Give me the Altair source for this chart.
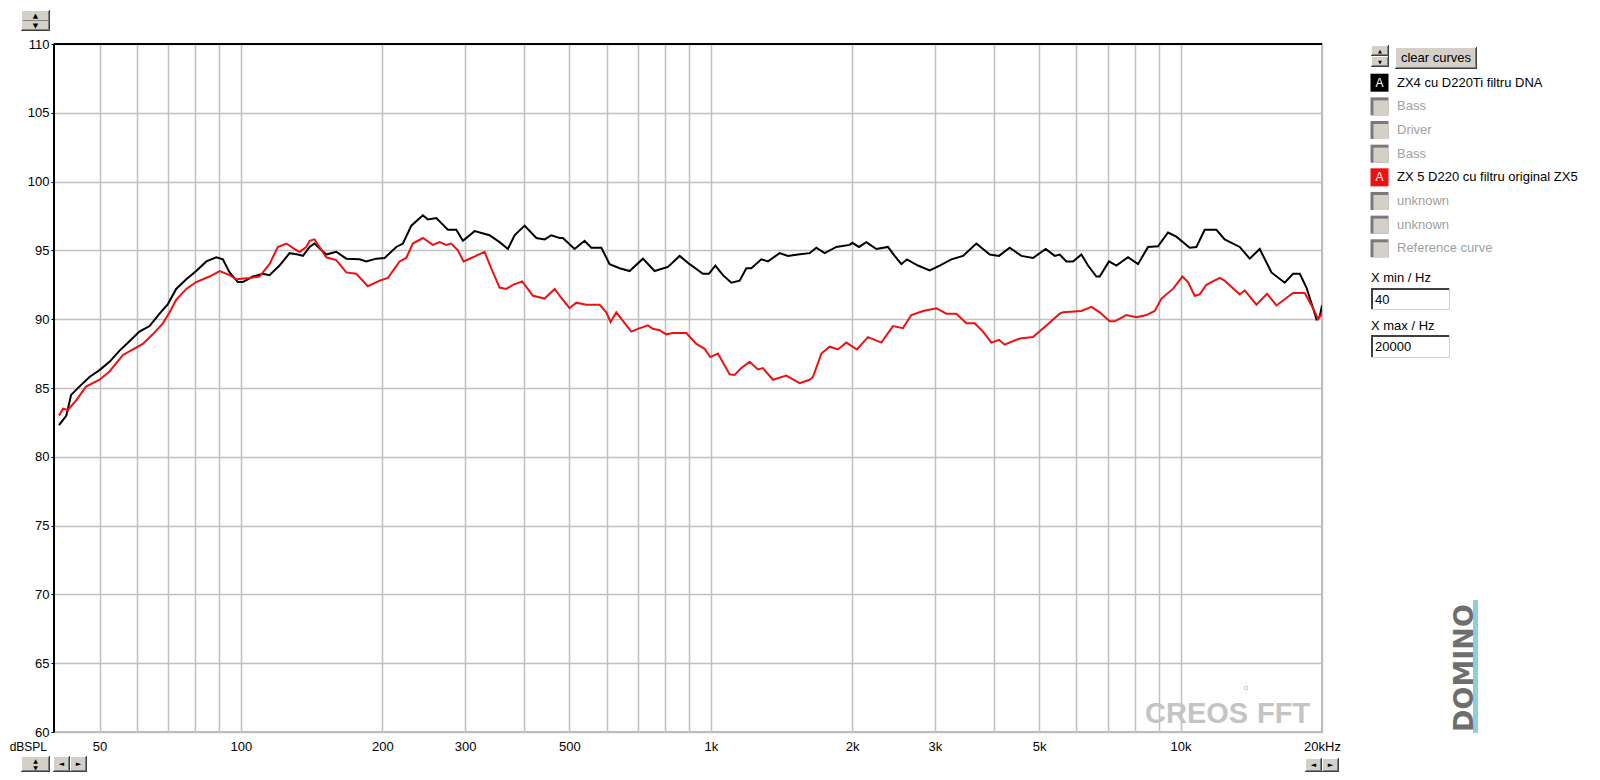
import altair as alt
import pandas as pd

# ---------------- data ----------------
BLACK_FREQ = [41.0, 42.5, 43.5, 45.3, 47.6, 50.0, 52.5, 55.1, 57.9, 60.8, 63.9, 67.1, 69.9, 72.8,
              76.5, 80.3, 84.4, 88.6, 91.5, 94.6, 98.5, 100.9, 106.0, 111.3, 115.0, 120.8, 126.9,
              132.2, 135.5, 140.0, 143.4, 151.9, 159.5, 167.6, 178.8, 184.8, 194.1, 202.2, 214.1,
              221.2, 230.5, 243.9, 250.0, 260.5, 275.7, 287.3, 296.8, 314.3, 338.1, 355.2, 370.0,
              382.3, 401.5, 425.3, 443.0, 457.7, 476.7, 484.4, 513.0, 538.8, 556.8, 584.8, 609.1,
              639.7, 671.9, 717.1, 759.4, 810.6, 858.5, 901.6, 962.3, 991.0, 1022.6, 1061.4,
              1106.0, 1152.0, 1190.5, 1220.0, 1281.3, 1323.4, 1401.5, 1459.7, 1532.9, 1623.4,
              1677.6, 1747.3, 1850.5, 1975.2, 2001.5, 2067.3, 2143.7, 2251.4, 2383.2, 2462.8,
              2545.0, 2615.8, 2760.7, 2923.6, 3070.6, 3251.8, 3442.1, 3675.9, 3924.7, 4107.8,
              4327.1, 4583.5, 4851.8, 5163.7, 5396.5, 5530.4, 5715, 5903, 6151, 6353, 6620, 6728,
              7041, 7301, 7729, 8117, 8525, 8953, 9403, 9797, 10457, 10806, 11255, 11918, 12413,
              13364, 14035, 14740, 15610, 16662, 17354, 17934, 18533, 19143, 19465, 19783, 20000]
BLACK_SPL = [82.3, 83.0, 84.5, 85.1, 85.8, 86.3, 86.9, 87.7, 88.4, 89.1, 89.5, 90.4, 91.1, 92.2,
             92.9, 93.5, 94.2, 94.5, 94.35, 93.4, 92.7, 92.7, 93.1, 93.3, 93.2, 93.9, 94.8,
             94.7, 94.6, 95.25, 95.5, 94.7, 94.9, 94.4, 94.35, 94.2, 94.4, 94.45, 95.25,
             95.5, 96.8, 97.55, 97.25, 97.35, 96.5, 96.5, 95.7, 96.4, 96.1, 95.6, 95.1,
             96.1, 96.8, 95.9, 95.8, 96.1, 95.9, 95.9, 95.1, 95.7, 95.2, 95.2, 94.0,
             93.7, 93.5, 94.4, 93.5, 93.8, 94.6, 94.0, 93.3, 93.3, 93.9, 93.2,
             92.65, 92.8, 93.7, 93.7, 94.35, 94.2, 94.8, 94.6, 94.7, 94.8,
             95.2, 94.8, 95.25, 95.4, 95.55, 95.25, 95.6, 95.1, 95.25, 94.6,
             94.0, 94.35, 93.9, 93.55, 93.9, 94.35, 94.6, 95.5, 94.7, 94.6,
             95.2, 94.6, 94.45, 95.1, 94.6, 94.7, 94.2, 94.2, 94.7, 93.9, 93.1, 93.1,
             94.2, 93.9, 94.5, 94.0, 95.25, 95.3, 96.3, 96.0, 95.2, 95.25, 96.5, 96.5, 95.8,
             95.25, 94.4, 95.1, 93.4, 92.65, 93.3, 93.3, 92.3, 90.8, 90.0, 90.2, 91.0]

RED_FREQ = [41.0, 41.8, 42.8, 44.6, 46.8, 50.0, 52.5, 56.1, 58.9, 61.8, 64.9, 68.2, 70.5, 72.8,
            76.5, 80.3, 85.7, 90.1, 94.6, 97.7, 104.3, 109.5, 115.0, 119.8, 124.9, 130.1, 133.3,
            137.7, 140.0, 143.4, 151.9, 159.5, 167.6, 176.0, 186.2, 197.3, 205.5, 217.6, 224.8,
            232.2, 243.9, 256.2, 264.7, 273.5, 280.3, 289.6, 297.8, 311.7, 330.0, 341.0, 355.2,
            367.1, 379.1, 397.0, 418.3, 443.0, 465.2, 484.4, 500.6, 517.3, 543.3, 580.0, 599.4,
            612.1, 629.4, 677.3, 699.6, 734.7, 752.9, 778.0, 804.0, 830.4, 887.1, 931.7, 970.4,
            997.8, 1035.7, 1096.8, 1124.0, 1161.6, 1209.8, 1260.0, 1291.3, 1356.2, 1448.3,
            1545.7, 1623.4, 1650.0, 1719.3, 1790.7, 1865.1, 1943.5, 2047.2, 2160.6, 2307.3,
            2442.2, 2565.0, 2673.0, 2829.5, 3021.4, 3173.3, 3332.8, 3500.3, 3645.5, 3797.0,
            3956.7, 4107.8, 4222.0, 4545.4, 4851.8, 5181.4, 5530.4, 5620.8, 6151.0, 6460.2,
            6728.4, 7065.5, 7240.8, 7668.3, 8053.6, 8458.3, 8809.6, 9103.7, 9634.8, 10090,
            10371, 10716, 10982, 11349, 12114, 12413, 13364, 13695, 14504, 15277, 15996, 17354,
            18379, 19143, 19619, 20000]
RED_SPL = [83.0, 83.5, 83.4, 84.1, 85.1, 85.6, 86.2, 87.4, 87.8, 88.2, 88.9, 89.7, 90.5, 91.4,
           92.2, 92.7, 93.1, 93.5, 93.2, 92.9, 93.0, 93.1, 94.0, 95.25, 95.5, 95.1, 94.9,
           95.25, 95.7, 95.8, 94.5, 94.3, 93.4, 93.3, 92.4, 92.8, 93.0, 94.2, 94.45,
           95.5, 95.9, 95.4, 95.6, 95.4, 95.5, 95.0, 94.2, 94.5, 94.9, 93.7, 92.3,
           92.2, 92.5, 92.75, 91.7, 91.5, 92.2, 91.4, 90.8, 91.2, 91.05, 91.05, 90.5,
           89.8, 90.5, 89.1, 89.3, 89.55, 89.3, 89.2, 88.9, 89.0, 89.0, 88.2, 87.85,
           87.25, 87.5, 86.0, 85.95, 86.45, 86.9, 86.35, 86.45, 85.6, 85.9,
           85.35, 85.6, 85.8, 87.5, 88.0, 87.8, 88.3, 87.8, 88.7, 88.3,
           89.5, 89.35, 90.3, 90.6, 90.8, 90.4, 90.4, 89.7, 89.7, 89.1,
           88.3, 88.5, 88.15, 88.6, 88.7, 89.55, 90.4, 90.5, 90.6, 90.9,
           90.5, 89.85, 89.85, 90.3, 90.15, 90.3, 90.6, 91.5, 92.2, 93.1,
           92.7, 91.7, 91.8, 92.5, 93.0, 92.8, 91.8, 92.1, 91.05, 91.85, 91.0, 91.9,
           91.9, 90.8, 90.0, 90.4]

GRID_FREQS = [50, 60, 70, 80, 90, 100, 200, 300, 400, 500, 600, 700, 800, 900,
              1000, 2000, 3000, 4000, 5000, 6000, 7000, 8000, 9000, 10000, 20000]
LABEL_FREQS = [50, 100, 200, 300, 500, 1000, 2000, 3000, 5000, 10000, 20000]
SPL_TICKS = [60, 65, 70, 75, 80, 85, 90, 95, 100, 105, 110]
X_DOMAIN = [40, 20000]
Y_DOMAIN = [60, 110]

LEGEND_LABELS = ["ZX4 cu D220Ti  filtru DNA", "Bass", "Driver", "Bass",
                 "ZX 5  D220 cu filtru original ZX5", "unknown", "unknown", "Reference curve"]
LEGEND_STATE = ["black", "off", "off", "off", "red", "off", "off", "off"]
XMIN_TEXT = "40"
XMAX_TEXT = "20000"

# ---------------- layout / style ----------------
W, H = 1268, 688
FONT = "Liberation Sans"
GRID = "#c0c0c0"
ONE = alt.Data(values=[{"k": 0}])

xs = alt.Scale(type="log", domain=X_DOMAIN, nice=False)
ys = alt.Scale(domain=Y_DOMAIN, nice=False, zero=False)

lab_list = ",".join(str(v) for v in LABEL_FREQS)
label_expr = (f"indexof([{lab_list}], datum.value) < 0 ? '' : "
              f"(datum.value == {LABEL_FREQS[-1]} ? '20kHz' : "
              f"(datum.value >= 1000 ? (datum.value / 1000) + 'k' : '' + datum.value))")

x_axis = alt.Axis(values=GRID_FREQS, labelExpr=label_expr, grid=True, gridColor=GRID,
                  gridWidth=1.5, domain=False, ticks=False, labelPadding=14,
                  labelBaseline="middle", labelFontSize=13, labelFont=FONT,
                  labelColor="#000", labelFlush=False, labelOverlap=False,
                  labelBound=False, title=None)
y_axis = alt.Axis(values=SPL_TICKS, grid=True, gridColor=GRID, gridWidth=1.5,
                  domain=False, tickSize=3, tickColor="#000", labelPadding=2,
                  labelFontSize=13, labelFont=FONT, labelColor="#000", title=None)

df_black = pd.DataFrame({"freq": BLACK_FREQ, "spl": BLACK_SPL})
df_red = pd.DataFrame({"freq": RED_FREQ, "spl": RED_SPL})

black = alt.Chart(df_black).mark_line(color="#000000", strokeWidth=2, clip=True).encode(
    x=alt.X("freq:Q", scale=xs, axis=x_axis),
    y=alt.Y("spl:Q", scale=ys, axis=y_axis))
red = alt.Chart(df_red).mark_line(color="#ee1111", strokeWidth=2, clip=True).encode(
    x=alt.X("freq:Q", scale=xs, axis=x_axis),
    y=alt.Y("spl:Q", scale=ys, axis=None))


def rect(x1, y1, x2, y2, fill):
    return alt.Chart(ONE).mark_rect(fill=fill, strokeWidth=0).encode(
        x=alt.value(x1), x2=alt.value(x2), y=alt.value(y1), y2=alt.value(y2))


def txt(text, x, y, size=13, color="#000", align="left", weight="normal",
        angle=0, baseline="middle", font=FONT):
    return alt.Chart(ONE).mark_text(text=text, align=align, baseline=baseline,
                                    fontSize=size, color=color, font=font,
                                    fontWeight=weight, angle=angle).encode(
        x=alt.value(x), y=alt.value(y))


def button(x1, y1, x2, y2):
    return [rect(x1, y1, x2, y2, "#404040"), rect(x1, y1, x2 - 1, y2 - 1, "#ffffff"),
            rect(x1 + 1, y1 + 1, x2 - 1, y2 - 1, "#808080"),
            rect(x1 + 1, y1 + 1, x2 - 2, y2 - 2, "#d4d0c8")]


def sunken(x1, y1, x2, y2):
    return [rect(x1, y1, x2, y2, "#d4d0c8"), rect(x1, y1, x2 - 1, y2 - 1, "#404040"),
            rect(x1 + 2, y1 + 2, x2 - 1, y2 - 1, "#ffffff")]


# frame
frame = [
    alt.Chart(ONE).mark_rule(color="#000", strokeWidth=2).encode(
        x=alt.value(0), x2=alt.value(W), y=alt.value(0)),
    alt.Chart(ONE).mark_rule(color="#000", strokeWidth=2).encode(
        x=alt.value(0), y=alt.value(0), y2=alt.value(H)),
]

# watermarks
marks = [
    txt("CREOS", 1091, 679, size=29, color="#c4c4c4", weight="bold", baseline="alphabetic"),
    txt("FFT", 1203, 679, size=29, color="#c4c4c4", weight="bold", baseline="alphabetic"),
    alt.Chart(ONE).mark_point(shape="circle", size=14, color="#b0b0b0", strokeWidth=1).encode(
        x=alt.value(1192), y=alt.value(644)),
    rect(1419, 556, 1424, 689, "#8fcfd8"),
    txt("DOMINO", 1419, 624, size=27, color="#6e6e6e", weight="bold", angle=270,
        align="center", baseline="alphabetic", font="DejaVu Sans"),
]

# bottom / top controls
ui = []
ui += button(-33, -34, -4, -13)
ui += [rect(-31, -24, -6, -23, "#808080"),
       txt("▲", -18.5, -28.5, size=7, align="center", font="DejaVu Sans"),
       txt("▼", -18.5, -18.5, size=7, align="center", font="DejaVu Sans")]
ui += [txt("dBSPL", -7, 703, size=12, align="right")]
ui += button(-33, 712, -4, 728)
ui += [txt("▲", -18.5, 716.5, size=6, align="center", font="DejaVu Sans"),
       txt("▼", -18.5, 723.5, size=6, align="center", font="DejaVu Sans")]
ui += button(-1, 712, 16, 728) + button(16, 712, 33, 728)
ui += [txt("◄", 7.5, 720, size=7, align="center", font="DejaVu Sans"),
       txt("►", 24.5, 720, size=7, align="center", font="DejaVu Sans")]
ui += button(1251, 714, 1268, 728) + button(1268, 714, 1285, 728)
ui += [txt("◄", 1259.5, 721, size=7, align="center", font="DejaVu Sans"),
       txt("►", 1276.5, 721, size=7, align="center", font="DejaVu Sans")]

# right panel
ui += button(1317, 1, 1335, 12) + button(1317, 12, 1335, 23)
ui += [txt("▲", 1326, 6.5, size=5, align="center", font="DejaVu Sans"),
       txt("▼", 1326, 17.5, size=5, align="center", font="DejaVu Sans")]
ui += button(1341, 3, 1423, 25)
ui += [txt("clear curves", 1382, 14, align="center")]
ui += [txt("X min / Hz", 1317, 234)]
ui += sunken(1317, 244, 1396, 266)
ui += [txt(XMIN_TEXT, 1321, 255.5)]
ui += [txt("X max / Hz", 1317, 282)]
ui += sunken(1317, 291, 1396, 314)
ui += [txt(XMAX_TEXT, 1321, 303)]

# legend list
leg_df = pd.DataFrame({"row": list(range(len(LEGEND_LABELS))),
                       "label": LEGEND_LABELS, "state": LEGEND_STATE})
ly = alt.Scale(domain=[0, len(LEGEND_LABELS) - 1], range=[38.7, 204.3])
leg_y = alt.Y("row:Q", scale=ly, axis=None)
leg_base = alt.Chart(leg_df)
legend = [
    leg_base.transform_filter("datum.state == 'off'").mark_square(
        size=324, color="#7a7a7a", opacity=1).encode(x=alt.value(1325.5), y=leg_y),
    leg_base.transform_filter("datum.state == 'off'").mark_square(
        size=225, color="#d4d0c8", opacity=1, xOffset=1.5, yOffset=1.5).encode(
        x=alt.value(1325.5), y=leg_y),
    leg_base.transform_filter("datum.state != 'off'").mark_square(
        size=324, opacity=1).encode(
        x=alt.value(1325.5), y=leg_y,
        color=alt.Color("state:N", scale=alt.Scale(domain=["black", "red"],
                                                    range=["#000000", "#ee1111"]),
                        legend=None)),
    leg_base.transform_filter("datum.state != 'off'").mark_text(
        text="A", color="#ffffff", fontSize=12, font=FONT, align="center",
        baseline="middle").encode(x=alt.value(1325.5), y=leg_y),
    leg_base.mark_text(align="left", baseline="middle", fontSize=13, font=FONT).encode(
        x=alt.value(1343), y=leg_y, text="label:N",
        color=alt.condition("datum.state == 'off'", alt.value("#a0a0a0"),
                            alt.value("#000000"))),
]

chart = alt.layer(black, red, *frame, *marks, *ui, *legend).resolve_scale(
    y="independent").properties(
    width=W, height=H,
    autosize=alt.AutoSizeParams(type="none"),
    padding={"left": 46, "top": 36, "right": 270, "bottom": 40},
).configure_view(stroke="#a0a0a0", strokeWidth=1.5)

chart.save("out.html", embed_options={"renderer": "svg", "actions": False})
